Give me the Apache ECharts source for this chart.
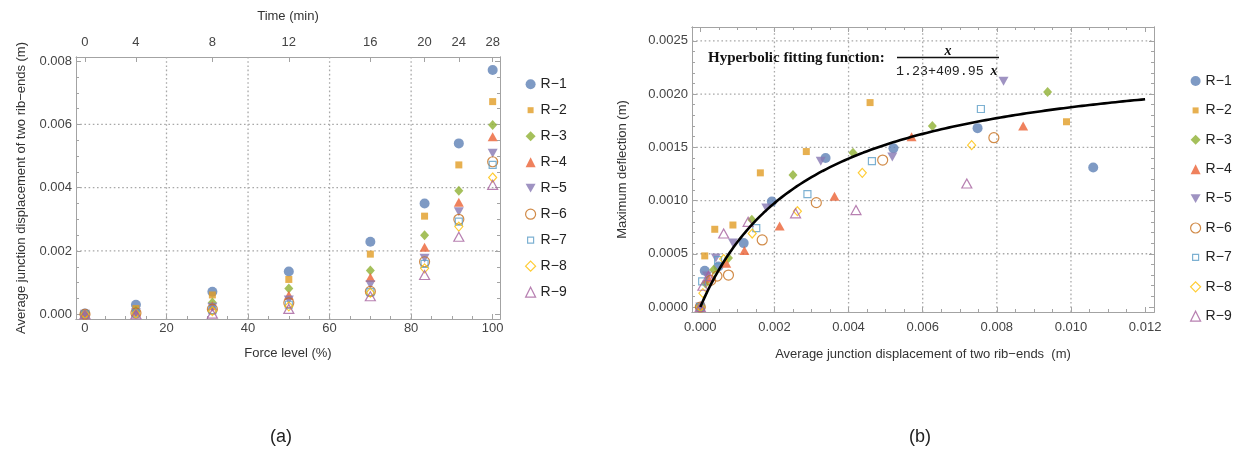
<!DOCTYPE html>
<html>
<head>
<meta charset="utf-8">
<title>Junction displacement and deflection of rib specimens</title>
<script src="https://cdn.jsdelivr.net/npm/echarts@6/dist/echarts.min.js"></script>
<style>
  html, body { margin: 0; padding: 0; background: #ffffff; }
  #chart { width: 1249px; height: 452px; }
</style>
</head>
<body>
<div id="chart"></div>
<script>
// ---------- data ----------
const SERIES_NAMES = ['R\u22121', 'R\u22122', 'R\u22123', 'R\u22124', 'R\u22125', 'R\u22126', 'R\u22127', 'R\u22128', 'R\u22129'];

// (a) force level (%) and the matching loading time (min)
const FORCE_LEVELS = [0, 12.5, 31.25, 50, 70, 83.3, 91.7, 100];
const TIME_LABELS = ['0', '4', '8', '12', '16', '20', '24', '28'];

// (a) average junction displacement (m) at each force level
const DISP_R1 = [0.00002, 0.00030, 0.00071, 0.00135, 0.00229, 0.00350, 0.00540, 0.00772];
const DISP_R2 = [0.00001, 0.00018, 0.00061, 0.00110, 0.00190, 0.00310, 0.00472, 0.00672];
const DISP_R3 = [0.00000, 0.00010, 0.00037, 0.00081, 0.00138, 0.00250, 0.00390, 0.00598];
const DISP_R4 = [0.00000, 0.00007, 0.00027, 0.00060, 0.00116, 0.00212, 0.00354, 0.00561];
const DISP_R5 = [0.00000, 0.00005, 0.00022, 0.00045, 0.00093, 0.00177, 0.00324, 0.00509];
const DISP_R6 = [0.00000, 0.00004, 0.00016, 0.00036, 0.00072, 0.00166, 0.00300, 0.00482];
const DISP_R7 = [0.00000, 0.00003, 0.00013, 0.00030, 0.00070, 0.00159, 0.00293, 0.00472];
const DISP_R8 = [0.00000, 0.00002, 0.00010, 0.00025, 0.00068, 0.00145, 0.00277, 0.00432];
const DISP_R9 = [0.00000, 0.00000, 0.00002, 0.00017, 0.00057, 0.00124, 0.00245, 0.00409];

// (b) [average junction displacement (m), maximum deflection (m)]
const DEFL_R1 = [[0, 0], [0.00012, 0.00034], [0.00049, 0.00038], [0.00117, 0.00060], [0.00193, 0.00099], [0.00338, 0.00140], [0.00521, 0.00149], [0.00748, 0.00168], [0.01060, 0.00131]];
const DEFL_R2 = [[0, 0], [0.00012, 0.00048], [0.00039, 0.00073], [0.00088, 0.00077], [0.00162, 0.00126], [0.00286, 0.00146], [0.00458, 0.00192], [0.00988, 0.00174]];
const DEFL_R3 = [[0, 0], [0.00014, 0.00022], [0.00036, 0.00035], [0.00076, 0.00046], [0.00139, 0.00082], [0.00250, 0.00124], [0.00412, 0.00145], [0.00626, 0.00170], [0.00937, 0.00202]];
const DEFL_R4 = [[0, 0], [0.00022, 0.00027], [0.00070, 0.00041], [0.00119, 0.00053], [0.00214, 0.00076], [0.00362, 0.00104], [0.00570, 0.00160], [0.00871, 0.00170]];
const DEFL_R5 = [[0, 0], [0.00018, 0.00029], [0.00042, 0.00046], [0.00088, 0.00060], [0.00178, 0.00093], [0.00325, 0.00137], [0.00518, 0.00141], [0.00818, 0.00212]];
const DEFL_R6 = [[0, 0], [0.00028, 0.00025], [0.00045, 0.00029], [0.00076, 0.00030], [0.00167, 0.00063], [0.00313, 0.00098], [0.00492, 0.00138], [0.00792, 0.00159]];
const DEFL_R7 = [[0, 0], [0.00005, 0.00024], [0.00048, 0.00044], [0.00151, 0.00074], [0.00289, 0.00106], [0.00463, 0.00137], [0.00757, 0.00186]];
const DEFL_R8 = [[0, 0], [0.00007, 0.00013], [0.00063, 0.00045], [0.00140, 0.00069], [0.00262, 0.00090], [0.00437, 0.00126], [0.00732, 0.00152]];
const DEFL_R9 = [[0, 0], [0.00007, 0.00020], [0.00022, 0.00029], [0.00063, 0.00069], [0.00129, 0.00080], [0.00257, 0.00088], [0.00420, 0.00091], [0.00719, 0.00116]];

// hyperbolic fit  y = x / (FIT_A + FIT_B * x), plotted over FIT_RANGE
const FIT_A = 1.23;
const FIT_B = 409.95;
const FIT_RANGE = [0, 0.012];

// tick positions
const FORCE_TICKS = [0, 20, 40, 60, 80, 100];
const DISP_TICKS_A = [0, 0.002, 0.004, 0.006, 0.008];
const DISP_TICKS_B = [0, 0.002, 0.004, 0.006, 0.008, 0.010, 0.012];
const DEFL_TICKS = [0, 0.0005, 0.0010, 0.0015, 0.0020, 0.0025];

// dotted grid lines
const GRID_X_A = [20, 40, 60, 80];
const GRID_Y_A = [0.002, 0.004, 0.006];
const GRID_X_B = [0.002, 0.004, 0.006, 0.008, 0.010];
const GRID_Y_B = [0.0005, 0.0010, 0.0015, 0.0020, 0.0025];

// ---------- helpers ----------
function minorTicks(majors, step, lo, hi) {
  const out = [];
  const n = Math.round((hi - lo) / step);
  for (let i = 0; i <= n; i++) {
    const v = +(lo + i * step).toFixed(8);
    if (!majors.some(m => Math.abs(m - v) < step / 10)) out.push(v);
  }
  return out;
}
const FORCE_MINOR = minorTicks(FORCE_TICKS, 5, 0, 100);
const DISP_MINOR_A = minorTicks(DISP_TICKS_A, 0.0005, 0, 0.008);
const DISP_MINOR_B = minorTicks(DISP_TICKS_B, 0.0005, 0, 0.012);
const DEFL_MINOR = minorTicks(DEFL_TICKS, 0.0001, 0, 0.0025);

const FONT = '"Liberation Sans", Arial, sans-serif';
const FRAME = '#a3a3a3';
const LABEL_COLOR = '#444444';
const TITLE_COLOR = '#333333';
const PALETTE = ['#5e81b5', '#e19c24', '#8fb032', '#eb6235', '#8778b3', '#c56e1a', '#5d9ec7', '#ffbf00', '#a5609d'];
const DOWN_TRIANGLE = 'path://M0,0L10,0L5,8.66Z';
const MARKERS = [
  { symbol: 'circle', size: 10, open: false },
  { symbol: 'rect', size: 7, open: false },
  { symbol: 'diamond', size: [9, 10], open: false },
  { symbol: 'triangle', size: [10, 9], open: false },
  { symbol: DOWN_TRIANGLE, size: [10, 9], open: false },
  { symbol: 'circle', size: 10, open: true },
  { symbol: 'rect', size: 7, open: true },
  { symbol: 'diamond', size: [8, 9], open: true },
  { symbol: 'triangle', size: [10, 9], open: true }
];

// frame-style axis: ticks point inward, optional labels
function frameAxis(o) {
  const ax = {
    type: 'value',
    gridIndex: o.grid,
    position: o.pos,
    min: o.min,
    max: o.max,
    axisLine: { show: true, onZero: false, lineStyle: { color: FRAME, width: 1 } },
    axisTick: { show: true, inside: true, length: o.tickLen, customValues: o.ticks, lineStyle: { color: FRAME, width: 1 } },
    axisLabel: o.fmt
      ? { show: true, customValues: o.ticks, formatter: o.fmt, margin: o.margin, color: LABEL_COLOR, fontSize: 13, fontFamily: FONT }
      : { show: false },
    splitLine: { show: false },
    silent: true
  };
  if (o.name) {
    ax.name = o.name;
    ax.nameLocation = 'middle';
    ax.nameGap = o.nameGap;
    ax.nameTextStyle = { color: TITLE_COLOR, fontSize: 13, fontFamily: FONT };
  }
  return ax;
}

function timeLabel(v) {
  let best = 0;
  FORCE_LEVELS.forEach((f, i) => { if (Math.abs(f - v) < Math.abs(FORCE_LEVELS[best] - v)) best = i; });
  return TIME_LABELS[best];
}

// ---------- axes ----------
const A_X = [-2.2, 101.8];
const A_Y = [-0.00015, 0.00813];
const B_X = [-0.000224, 0.01224];
const B_Y = [-0.000047, 0.00263];

const xAxes = [
  // (a)
  frameAxis({ grid: 0, pos: 'bottom', min: A_X[0], max: A_X[1], ticks: FORCE_TICKS, tickLen: 5, fmt: v => String(v), margin: 3, name: 'Force level (%)', nameGap: 28 }),
  frameAxis({ grid: 0, pos: 'bottom', min: A_X[0], max: A_X[1], ticks: FORCE_MINOR, tickLen: 3 }),
  frameAxis({ grid: 0, pos: 'top', min: A_X[0], max: A_X[1], ticks: FORCE_LEVELS, tickLen: 5, fmt: timeLabel, margin: 8, name: 'Time (min)', nameGap: 34 }),
  // (b)
  frameAxis({ grid: 1, pos: 'bottom', min: B_X[0], max: B_X[1], ticks: DISP_TICKS_B, tickLen: 5, fmt: v => v.toFixed(3), margin: 9, name: 'Average junction displacement of two rib\u2212ends  (m)', nameGap: 36 }),
  frameAxis({ grid: 1, pos: 'bottom', min: B_X[0], max: B_X[1], ticks: DISP_MINOR_B, tickLen: 3 }),
  frameAxis({ grid: 1, pos: 'top', min: B_X[0], max: B_X[1], ticks: DISP_TICKS_B, tickLen: 5 }),
  frameAxis({ grid: 1, pos: 'top', min: B_X[0], max: B_X[1], ticks: DISP_MINOR_B, tickLen: 3 })
];

const yAxes = [
  // (a)
  frameAxis({ grid: 0, pos: 'left', min: A_Y[0], max: A_Y[1], ticks: DISP_TICKS_A, tickLen: 5, fmt: v => v.toFixed(3), margin: 4, name: 'Average junction displacement of two rib\u2212ends (m)', nameGap: 48 }),
  frameAxis({ grid: 0, pos: 'left', min: A_Y[0], max: A_Y[1], ticks: DISP_MINOR_A, tickLen: 3 }),
  frameAxis({ grid: 0, pos: 'right', min: A_Y[0], max: A_Y[1], ticks: DISP_TICKS_A, tickLen: 5 }),
  frameAxis({ grid: 0, pos: 'right', min: A_Y[0], max: A_Y[1], ticks: DISP_MINOR_A, tickLen: 3 }),
  // (b)
  frameAxis({ grid: 1, pos: 'left', min: B_Y[0], max: B_Y[1], ticks: DEFL_TICKS, tickLen: 5, fmt: v => v.toFixed(4), margin: 4, name: 'Maximum deflection (m)', nameGap: 63 }),
  frameAxis({ grid: 1, pos: 'left', min: B_Y[0], max: B_Y[1], ticks: DEFL_MINOR, tickLen: 3 }),
  frameAxis({ grid: 1, pos: 'right', min: B_Y[0], max: B_Y[1], ticks: DEFL_TICKS, tickLen: 5 }),
  frameAxis({ grid: 1, pos: 'right', min: B_Y[0], max: B_Y[1], ticks: DEFL_MINOR, tickLen: 3 })
];

// ---------- series ----------
function markerStyle(i) {
  const m = MARKERS[i];
  return {
    symbol: m.symbol,
    symbolSize: m.size,
    itemStyle: m.open
      ? { color: 'rgba(255,255,255,0)', borderColor: PALETTE[i], borderWidth: 1.2 }
      : { color: PALETTE[i], borderWidth: 0 }
  };
}

const DISP_SERIES = [DISP_R1, DISP_R2, DISP_R3, DISP_R4, DISP_R5, DISP_R6, DISP_R7, DISP_R8, DISP_R9];
const DEFL_SERIES = [DEFL_R1, DEFL_R2, DEFL_R3, DEFL_R4, DEFL_R5, DEFL_R6, DEFL_R7, DEFL_R8, DEFL_R9];

const series = [];

// dotted grid lines spanning the full axis extent
const GRID_STYLE = { type: [1.6, 2.6], color: '#a8a8a8', width: 1.3 };
function gridLines(xi, yi, xs, ys, xExt, yExt) {
  const segs = xs.map(v => [[v, yExt[0]], [v, yExt[1]]]).concat(ys.map(v => [[xExt[0], v], [xExt[1], v]]));
  segs.forEach(seg => {
    series.push({
      type: 'line', xAxisIndex: xi, yAxisIndex: yi, data: seg, z: 1,
      symbol: 'none', showSymbol: false, silent: true,
      lineStyle: GRID_STYLE, emphasis: { disabled: true }
    });
  });
}
gridLines(0, 0, GRID_X_A, GRID_Y_A, A_X, A_Y);
gridLines(3, 4, GRID_X_B, GRID_Y_B, B_X, B_Y);

DISP_SERIES.forEach((vals, i) => {
  series.push(Object.assign({
    name: SERIES_NAMES[i], type: 'scatter', xAxisIndex: 0, yAxisIndex: 0, z: 2 + i * 0.01,
    data: vals.map((v, k) => [FORCE_LEVELS[k], v])
  }, markerStyle(i)));
});
DEFL_SERIES.forEach((pts, i) => {
  series.push(Object.assign({
    name: SERIES_NAMES[i], type: 'scatter', xAxisIndex: 3, yAxisIndex: 4, z: 2 + i * 0.01,
    data: pts
  }, markerStyle(i)));
});

// fitted hyperbola
const fitPts = [];
const FIT_STEPS = 240;
for (let k = 0; k <= FIT_STEPS; k++) {
  const x = FIT_RANGE[0] + (FIT_RANGE[1] - FIT_RANGE[0]) * k / FIT_STEPS;
  fitPts.push([x, x / (FIT_A + FIT_B * x)]);
}
series.push({
  name: 'Hyperbolic fit', type: 'line', xAxisIndex: 3, yAxisIndex: 4, z: 5,
  data: fitPts, showSymbol: false, symbol: 'none', silent: true,
  lineStyle: { color: '#000000', width: 2.6 }
});

// ---------- legends ----------
function legendData() {
  return SERIES_NAMES.map((n, i) => {
    const d = { name: n };
    if (MARKERS[i].symbol === 'rect') d.icon = 'path://M0,0M10,10M2,2L8,2L8,8L2,8Z';
    if (MARKERS[i].open) d.itemStyle = { borderWidth: 1.2 };
    return d;
  });
}
const legendText = { fontSize: 14, color: '#222222', fontFamily: FONT };

// ---------- fit annotation and panel captions ----------
const graphic = [
  { type: 'text', left: 708, top: 51, style: { text: 'Hyperbolic fitting function:', fill: '#111111', font: 'bold 15px "Liberation Serif", "Times New Roman", serif' } },
  { type: 'text', x: 948, y: 51, style: { text: 'x', fill: '#111111', align: 'center', verticalAlign: 'middle', font: 'italic bold 14px "Liberation Serif", serif' } },
  { type: 'line', shape: { x1: 897, y1: 57.5, x2: 999, y2: 57.5 }, style: { stroke: '#111111', lineWidth: 1.6 } },
  { type: 'text', x: 896, y: 71, style: { text: FIT_A + '+' + FIT_B, fill: '#222222', align: 'left', verticalAlign: 'middle', font: '13.3px "Liberation Mono", "Courier New", monospace' } },
  { type: 'text', x: 994, y: 71, style: { text: 'x', fill: '#111111', align: 'center', verticalAlign: 'middle', font: 'italic bold 14px "Liberation Serif", serif' } },
  { type: 'text', x: 281, y: 437, style: { text: '(a)', fill: '#222222', align: 'center', verticalAlign: 'middle', font: '18px "Liberation Sans", Arial, sans-serif' } },
  { type: 'text', x: 920, y: 437, style: { text: '(b)', fill: '#222222', align: 'center', verticalAlign: 'middle', font: '18px "Liberation Sans", Arial, sans-serif' } }
];

const option = {
  animation: false,
  backgroundColor: '#ffffff',
  grid: [
    { left: 76, top: 57, width: 424, height: 262 },
    { left: 692, top: 27, width: 462, height: 285 }
  ],
  xAxis: xAxes,
  yAxis: yAxes,
  legend: [
    { data: legendData(), orient: 'vertical', left: 520, top: 72.2, itemWidth: 10, itemHeight: 10, itemGap: 12, textStyle: legendText, selectedMode: false },
    { data: legendData(), orient: 'vertical', left: 1185, top: 69, itemWidth: 10, itemHeight: 10, itemGap: 15.4, textStyle: legendText, selectedMode: false }
  ],
  graphic: graphic,
  series: series
};

const chart = echarts.init(document.getElementById('chart'), null, { renderer: 'canvas' });
chart.setOption(option);
</script>
</body>
</html>
